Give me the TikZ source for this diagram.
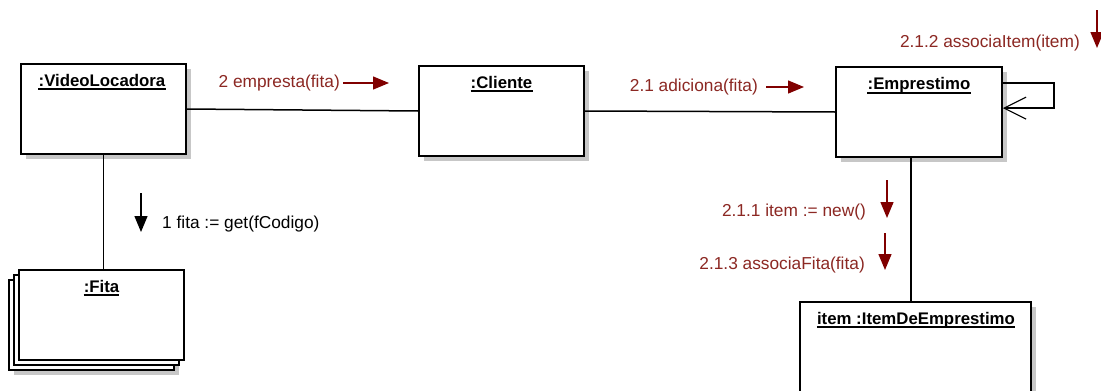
\documentclass[tikz,border=0pt]{standalone}
\usepackage{fontspec}
\setmainfont{Liberation Sans}
\usetikzlibrary{arrows.meta}
\definecolor{msgtext}{RGB}{140,40,35}
\definecolor{msgarrowc}{RGB}{128,0,0}
\begin{document}
\begin{tikzpicture}[x=1pt,y=-1pt,
 obj/.style={draw=black, line width=1.7pt, fill=white, rectangle, inner sep=0},
 shadowbox/.style={fill=black!22, draw=none, rectangle, inner sep=0},
 boxsize/.style={minimum width=165pt, minimum height=90pt},
 title/.style={font=\fontsize{16.8}{18}\selectfont\bfseries, inner sep=0, anchor=base},
 uline/.style={draw=black, line width=1.1pt},
 msg/.style={font=\fontsize{17.3}{19}\selectfont, text=msgtext, inner sep=0},
 blackmsg/.style={font=\fontsize{17.3}{19}\selectfont, text=black, inner sep=0},
 msgarrow/.style={draw=msgarrowc, line width=1.4pt, -{Triangle[length=16pt,width=13pt]}},
 blackarrow/.style={draw=black, line width=1.4pt, -{Triangle[length=16pt,width=13pt]}},
 link/.style={draw=black, line width=1.5pt}]
\clip (0,0) rectangle (1101,391);
\fill[white] (0,0) rectangle (1101,391);
% VideoLocadora
\node[shadowbox, boxsize] (vls) at (108.5,114) {};
\node[obj, boxsize] (vl) at (103.5,109) {};
\node[title] (vlt) at (102,86) {:VideoLocadora};
\draw[uline] ([yshift=-3pt]vlt.base west) -- ([yshift=-3pt]vlt.base east);
% Cliente
\node[shadowbox, boxsize] (cls) at (506.5,116) {};
\node[obj, boxsize] (cl) at (501.5,111) {};
\node[title] (clt) at (501.5,88) {:Cliente};
\draw[uline] ([yshift=-3pt]clt.base west) -- ([yshift=-3pt]clt.base east);
% Emprestimo
\node[shadowbox, minimum width=166pt, minimum height=90pt] (ems) at (924,117) {};
\node[obj, minimum width=166pt, minimum height=90pt] (em) at (919,112) {};
\node[title] (emt) at (919,89) {:Emprestimo};
\draw[uline] ([yshift=-4pt]emt.base west) -- ([yshift=-4pt]emt.base east);
% Fita (multi-object)
\node[shadowbox, boxsize] (fis) at (96.5,330) {};
\node[obj, boxsize] (fi3) at (91.5,325) {};
\node[obj, boxsize] (fi2) at (96.5,320) {};
\node[obj, boxsize] (fi) at (101.5,315) {};
\node[title] (fit) at (101.5,292) {:Fita};
\draw[uline] ([yshift=-3pt]fit.base west) -- ([yshift=-3pt]fit.base east);
% ItemDeEmprestimo
\node[shadowbox, minimum width=231pt, minimum height=94pt] (its) at (920.5,354) {};
\node[obj, minimum width=231pt, minimum height=94pt] (it) at (915.5,349) {};
\node[title] (itt) at (916,324) {item :ItemDeEmprestimo};
\draw[uline] ([yshift=-3pt]itt.base west) -- ([yshift=-3pt]itt.base east);
% links
\draw[link] (vl.east) -- (cl.west);
\draw[link] (cl.east) -- (em.west);
\draw[link] (vl.south) -- (vl.south |- fi.north);
\draw[link] ([xshift=-8pt]em.south) -- ([xshift=-8pt]em.south |- it.north);
\draw[link, -{Straight Barb[length=22pt,width=22pt,line width=1.1pt]}]
  ([yshift=-17pt]em.north east) -- ++(51,0) -- ++(0,25) -- ([yshift=-42pt]em.north east);
% messages
\coordinate (m2a) at (343,83); \coordinate (m2b) at (389,83);
\draw[msgarrow] (m2a) -- (m2b);
\node[msg, anchor=east] (m2) at (340,83) {2 empresta(fita)};
\coordinate (m21a) at (766,87); \coordinate (m21b) at (804,87);
\draw[msgarrow] (m21a) -- (m21b);
\node[msg, anchor=east] (m21) at (758,87) {2.1 adiciona(fita)};
\coordinate (m212a) at (1097,10); \coordinate (m212b) at (1097,48);
\draw[msgarrow] (m212a) -- (m212b);
\node[msg, anchor=east] (m212) at (1080,43) {2.1.2 associaItem(item)};
\coordinate (m211a) at (887,180); \coordinate (m211b) at (887,218);
\draw[msgarrow] (m211a) -- (m211b);
\node[msg, anchor=east] (m211) at (866,212) {2.1.1 item := new()};
\coordinate (m213a) at (885,233); \coordinate (m213b) at (885,270);
\draw[msgarrow] (m213a) -- (m213b);
\node[msg, anchor=east] (m213) at (865,265) {2.1.3 associaFita(fita)};
\coordinate (m1a) at (141,193); \coordinate (m1b) at (141,232);
\draw[blackarrow] (m1a) -- (m1b);
\node[blackmsg, anchor=west] (m1) at (162,224) {1 fita := get(fCodigo)};
\end{tikzpicture}
\end{document}
